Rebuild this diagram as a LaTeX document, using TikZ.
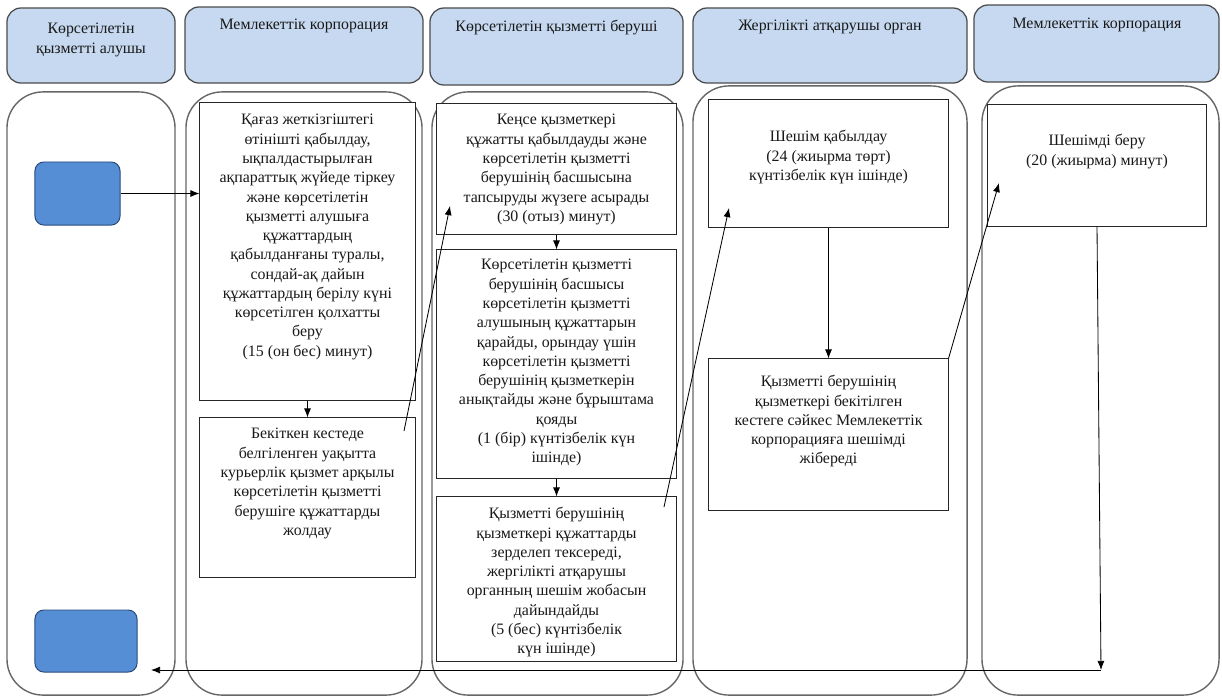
\documentclass[tikz,border=0pt]{standalone}
\usepackage{fontspec}
\setmainfont{Liberation Serif}
\usepackage{tikz}
\usetikzlibrary{shapes,arrows.meta,positioning,calc}
\definecolor{hdrblue}{HTML}{C6D9F1}
\definecolor{usrblue}{HTML}{558ED5}
\definecolor{usrline}{HTML}{2A4A7A}
\tikzset{
hdr/.style = {draw=black!70, fill=hdrblue, rounded corners=0.35cm, line width=0.9pt, minimum height=1.9cm},
lane/.style = {draw=black!60, rounded corners=0.9cm, line width=1pt},
block/.style = {draw=black!85, fill=white, rectangle, line width=0.7pt},
user/.style = {draw=usrline, fill=usrblue, rounded corners=0.22cm, line width=0.7pt},
txt/.style = {align=center, anchor=north, inner sep=0pt, text=black!90, font=\fontsize{11.3}{13.7}\selectfont},
tmp/.style = {coordinate}
}

\begin{document}
\begin{tikzpicture}[x=0.025cm, y=-0.025cm, auto, >={Latex[length=6.5pt,width=5pt]}, line width=0.6pt]
		\useasboundingbox (0,0) rectangle (1222,698);

		% headers
		\node [hdr, minimum width=4.2cm, minimum height=1.875cm] (hdr1) at (91,45.5) {};
		\node [hdr, minimum width=5.95cm] (hdr2) at (304,45) {};
		\node [hdr, minimum width=6.325cm, minimum height=1.925cm] (hdr3) at (556.5,46.5) {};
		\node [hdr, minimum width=6.85cm, minimum height=1.875cm] (hdr4) at (830,45.5) {};
		\node [hdr, minimum width=6.125cm, minimum height=1.925cm] (hdr5) at (1096.5,43.5) {};
		\node [txt] (h1) at (91,23) {Көрсетілетін\\қызметті алушы};
		\node [txt] (h2) at (304,19) {Мемлекеттік корпорация};
		\node [txt] (h3) at (556.5,20) {Көрсетілетін қызметті беруші};
		\node [txt] (h4) at (830,20) {Жергілікті атқарушы орган};
		\node [txt] (h5) at (1097,18) {Мемлекеттік корпорация};

		% lanes
		\node [lane, minimum width=4.2cm, minimum height=15.075cm] (lane1) at (91,393.5) {};
		\node [lane, minimum width=5.9cm, minimum height=15.075cm] (lane2) at (304,393.5) {};
		\node [lane, minimum width=6.275cm, minimum height=15.075cm] (lane3) at (557.5,393.5) {};
		\node [lane, minimum width=6.85cm, minimum height=15.225cm] (lane4) at (830,390.5) {};
		\node [lane, minimum width=5.925cm, minimum height=15.225cm] (lane5) at (1100.5,390.5) {};

		% service receiver
		\node [user, minimum width=2.125cm, minimum height=1.575cm] (recv1) at (77.5,193.5) {};
		\node [user, minimum width=2.55cm, minimum height=1.55cm] (recv2) at (86,641) {};

		% state corporation
		\node [block, minimum width=5.375cm, minimum height=7.425cm] (accept) at (307.5,251.5) {};
		\node [txt] (taccept) at (307.5,114) {Қағаз жеткізгіштегі\\өтінішті қабылдау,\\ықпалдастырылған\\ақпараттық жүйеде тіркеу\\және көрсетілетін\\қызметті алушыға\\құжаттардың\\қабылданғаны туралы,\\сондай-ақ дайын\\құжаттардың берілу күні\\көрсетілген қолхатты\\беру\\(15 (он бес) минут)};
		\node [block, minimum width=5.4cm, minimum height=3.975cm] (courier) at (307.5,497.5) {};
		\node [txt] (tcourier) at (307.5,428) {Бекіткен кестеде\\белгіленген уақытта\\курьерлік қызмет арқылы\\көрсетілетін қызметті\\берушіге құжаттарды\\жолдау};

		% service provider
		\node [block, minimum width=5.975cm, minimum height=3.25cm] (office) at (556.5,169) {};
		\node [txt] (toffice) at (556.5,114) {Кеңсе қызметкері\\құжатты қабылдауды және\\көрсетілетін қызметті\\берушінің басшысына\\тапсыруды жүзеге асырады\\(30 (отыз) минут)};
		\node [block, minimum width=5.975cm, minimum height=5.7cm] (head) at (556.5,364) {};
		\node [txt] (thead) at (556.5,259) {Көрсетілетін қызметті\\берушінің басшысы\\көрсетілетін қызметті\\алушының құжаттарын\\қарайды, орындау үшін\\көрсетілетін қызметті\\берушінің қызметкерін\\анықтайды және бұрыштама\\қояды\\(1 (бір) күнтізбелік күн\\ішінде)};
		\node [block, minimum width=5.975cm, minimum height=4.1cm] (check) at (556.5,579) {};
		\node [txt] (tcheck) at (556.5,507) {Қызметті берушінің\\қызметкері құжаттарды\\зерделеп тексереді,\\жергілікті атқарушы\\органның шешім жобасын\\дайындайды\\(5 (бес) күнтізбелік\\күн ішінде)};

		% local executive body
		\node [block, minimum width=5.975cm, minimum height=3.175cm] (decide) at (828.5,163.5) {};
		\node [txt] (tdecide) at (828.5,130) {Шешім қабылдау\\(24 (жиырма төрт)\\күнтізбелік күн ішінде)};
		\node [block, minimum width=5.975cm, minimum height=3.775cm] (send) at (828.5,434.5) {};
		\node [txt] (tsend) at (828.5,375) {Қызметті берушінің\\қызметкері бекітілген\\кестеге сәйкес Мемлекеттік\\корпорацияға шешімді\\жібереді};

		% state corporation (issue)
		\node [block, minimum width=5.45cm, minimum height=3.025cm] (issue) at (1097,165.5) {};
		\node [txt] (tissue) at (1097,134) {Шешімді беру\\(20 (жиырма) минут)};

		% free ends
		\coordinate (s1) at (404,431);
		\coordinate (e1) at (450,206);
		\coordinate (s2) at (664,507);
		\coordinate (e2) at (729,208);
		\coordinate (e3) at (999,183);
		\coordinate (c1) at (1101,670);
		\coordinate (e4) at (151,670);

		\draw [->] (recv1.east) -- (recv1.east -| accept.west);
		\draw [->] (accept) -- (courier);
		\draw [->] (s1) -- (e1);
		\draw [->] (office) -- (head);
		\draw [->] (head) -- (check);
		\draw [->] (s2) -- (e2);
		\draw [->] (decide) -- (send);
		\draw [->] (send.north east) -- (e3);
		\draw [->] (issue.south) -- (c1);
		\draw [->] (c1) -- (e4);
\end{tikzpicture}
\end{document}
